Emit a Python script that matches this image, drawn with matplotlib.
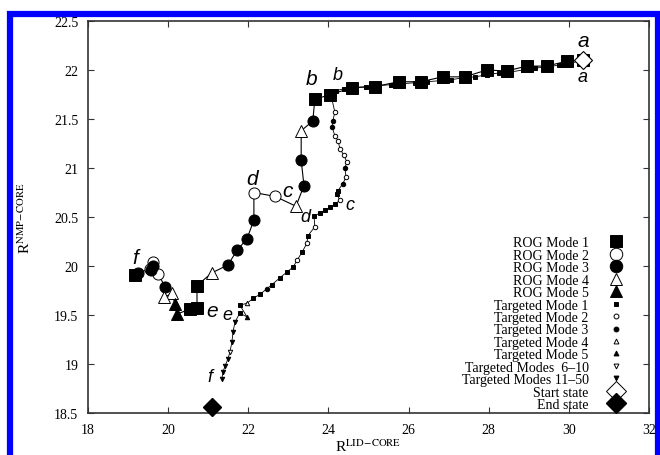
import matplotlib
matplotlib.use("Agg")
import matplotlib.pyplot as plt
import matplotlib.patches as patches
from matplotlib.lines import Line2D
from matplotlib.ticker import FuncFormatter

# ROG path (large markers), a -> f
rog_x = [30.35, 29.95, 29.45, 28.95, 28.45, 27.95, 27.40, 26.85, 26.30, 25.75,
         25.15, 24.60, 24.05, 23.66, 23.61, 23.32, 23.32, 23.39, 23.19, 22.67,
         22.14, 22.14, 21.97, 21.72, 21.49, 21.09, 20.72, 20.72, 20.55, 20.22,
         20.17, 20.10, 19.90, 19.92, 19.75, 19.62, 19.58, 19.62, 19.55, 19.25,
         19.17]
rog_y = [22.10, 22.09, 22.04, 22.04, 21.99, 22.00, 21.93, 21.93, 21.88, 21.88,
         21.83, 21.82, 21.75, 21.70, 21.48, 21.38, 21.08, 20.82, 20.61, 20.71,
         20.75, 20.47, 20.28, 20.16, 20.01, 19.93, 19.80, 19.57, 19.56, 19.51,
         19.61, 19.72, 19.68, 19.79, 19.92, 20.04, 19.96, 20.00, 19.97, 19.93,
         19.91]
rog_mode = [1, 1, 1, 1, 1, 1, 1, 1, 1, 1,
            1, 1, 1, 1, 3, 4, 3, 3, 4, 2,
            2, 3, 3, 3, 3, 4, 1, 1, 1, 5,
            5, 4, 4, 3, 2, 2, 3, 3, 2, 3,
            1]

# targeted path (small markers), a -> f
tgt_x = [30.35, 30.05, 29.75, 29.45, 29.15, 28.85, 28.55, 28.25, 27.95, 27.65,
         27.35, 27.05, 26.75, 26.45, 26.15, 25.85, 25.55, 25.25, 24.95, 24.65,
         24.40, 24.20, 24.05, 24.16, 24.11, 24.09, 24.16, 24.24, 24.29, 24.39,
         24.46, 24.41, 24.44, 24.36, 24.24, 24.21, 24.29, 24.16, 24.04, 23.91,
         23.79, 23.64, 23.66, 23.49, 23.46, 23.34, 23.22, 23.12, 22.97, 22.79,
         22.59, 22.47, 22.29, 22.12, 21.97, 21.79, 21.97, 21.79, 21.67, 21.62,
         21.59, 21.54, 21.49, 21.42, 21.37, 21.34]
tgt_y = [22.10, 22.07, 22.05, 22.03, 22.02, 22.00, 21.98, 21.97, 21.95, 21.93,
         21.92, 21.90, 21.89, 21.88, 21.87, 21.86, 21.85, 21.84, 21.83, 21.82,
         21.81, 21.79, 21.77, 21.57, 21.48, 21.42, 21.33, 21.28, 21.19, 21.13,
         21.06, 21.00, 20.91, 20.84, 20.77, 20.73, 20.67, 20.63, 20.60, 20.57,
         20.54, 20.51, 20.40, 20.31, 20.23, 20.14, 20.06, 19.99, 19.94, 19.88,
         19.81, 19.77, 19.71, 19.67, 19.62, 19.60, 19.48, 19.52, 19.43, 19.33,
         19.22, 19.12, 19.05, 18.98, 18.92, 18.85]
tgt_mode = [1, 1, 1, 1, 1, 1, 1, 1, 1, 1,
            1, 1, 1, 1, 1, 1, 1, 1, 1, 1,
            1, 1, 1, 2, 3, 3, 2, 2, 2, 2,
            2, 3, 2, 3, 1, 1, 2, 1, 1, 1,
            1, 1, 2, 1, 2, 1, 2, 1, 1, 1,
            1, 3, 1, 1, 4, 1, 5, 1, 11, 11,
            11, 6, 11, 11, 11, 11]

start_state = (30.35, 22.10)
end_state = (21.10, 18.56)

# letter annotations: (text, x, y, size)
letters = [("a", 30.35, 22.30, 15), ("a", 30.35, 21.93, 13),
           ("b", 23.59, 21.91, 15), ("b", 24.24, 21.95, 13),
           ("c", 22.99, 20.77, 15), ("c", 24.54, 20.63, 13),
           ("d", 22.09, 20.89, 15), ("d", 23.42, 20.50, 13),
           ("e", 21.09, 19.55, 15), ("e", 21.49, 19.51, 13),
           ("f", 19.17, 20.09, 15), ("f", 21.04, 18.87, 13)]

legend_labels = ["ROG Mode 1", "ROG Mode 2", "ROG Mode 3", "ROG Mode 4", "ROG Mode 5",
                 "Targeted Mode 1", "Targeted Mode 2", "Targeted Mode 3",
                 "Targeted Mode 4", "Targeted Mode 5", "Targeted Modes  6\u201310",
                 "Targeted Modes 11\u201350", "Start state", "End state"]

# mode -> (marker, filled)
rog_style = {1: ('s', True), 2: ('o', False), 3: ('o', True), 4: ('^', False), 5: ('^', True)}
tgt_style = {1: ('s', True), 2: ('o', False), 3: ('o', True), 4: ('^', False),
             5: ('^', True), 6: ('v', False), 11: ('v', True)}


def draw_path(ax, xs, ys, modes, style, ms, lw):
    ax.plot(xs, ys, color='black', lw=lw, zorder=2)
    for m, (mk, filled) in style.items():
        px = [x for x, mm in zip(xs, modes) if mm == m]
        py = [y for y, mm in zip(ys, modes) if mm == m]
        if not px:
            continue
        ax.plot(px, py, ls='none', marker=mk, ms=ms, mec='black', mew=0.7,
                mfc='black' if filled else 'white', zorder=3)


def main():
    plt.rcParams['font.family'] = ['Liberation Serif', 'DejaVu Serif']
    plt.rcParams['mathtext.fontset'] = 'stix'

    fig = plt.figure(figsize=(6.6, 4.56), dpi=100)
    ax = fig.add_axes([88 / 660, 1 - 414 / 456, 561 / 660, 392 / 456])

    draw_path(ax, tgt_x, tgt_y, tgt_mode, tgt_style, 3.2, 0.6)
    draw_path(ax, rog_x, rog_y, rog_mode, rog_style, 8, 0.8)

    ax.plot(*start_state, ls='none', marker='D', ms=9, mfc='white', mec='black', mew=0.8, zorder=4)
    ax.plot(*end_state, ls='none', marker='D', ms=9, mfc='black', mec='black', zorder=4, clip_on=False)

    for t, x, y, s in letters:
        ax.text(x, y, t, fontsize=s, style='italic', family='Liberation Sans',
                ha='center', va='center', zorder=5)

    ax.set_xlim(18, 32)
    ax.set_ylim(18.5, 22.5)
    ax.set_xticks(range(18, 33, 2))
    ax.set_yticks([18.5 + 0.5 * i for i in range(9)])
    ax.yaxis.set_major_formatter(FuncFormatter(lambda v, p: f"{v:g}"))
    ax.tick_params(direction='in', length=4, width=0.8, top=True, right=True,
                   labelsize=10, pad=7, colors='#333333', labelcolor='black')
    for sp in ax.spines.values():
        sp.set_linewidth(1.2)
        sp.set_color('#333333')

    ax.set_xlabel(r'R$^{\mathrm{LID\!-\!CORE}}$', fontsize=11, labelpad=1)
    ax.set_ylabel(r'R$^{\mathrm{NMP\!-\!CORE}}$', fontsize=11, labelpad=15)

    # legend handles
    handles = []
    for m in range(1, 6):
        mk, filled = rog_style[m]
        handles.append(Line2D([], [], ls='none', marker=mk, ms=9, mec='black', mew=0.7,
                              mfc='black' if filled else 'white'))
    for m in [1, 2, 3, 4, 5, 6, 11]:
        mk, filled = tgt_style[m]
        handles.append(Line2D([], [], ls='none', marker=mk, ms=3.5, mec='black', mew=0.7,
                              mfc='black' if filled else 'white'))
    handles.append(Line2D([], [], ls='none', marker='D', ms=10, mec='black', mew=0.7, mfc='white'))
    handles.append(Line2D([], [], ls='none', marker='D', ms=10, mec='black', mfc='black'))

    ax.legend(handles, legend_labels, loc='lower right', bbox_to_anchor=(0.974, -0.02),
              frameon=False, markerfirst=False, fontsize=10, labelspacing=-0.04,
              handlelength=1.2, handletextpad=1.4, borderpad=0.2)

    # blue outer border
    fig.add_artist(patches.Rectangle((10 / 660, -0.1), 648 / 660, (456 - 14.5) / 456 + 0.1,
                                     transform=fig.transFigure, fill=False,
                                     edgecolor='#0000ff', lw=4.5, clip_on=False))

    fig.savefig('out.png', dpi=100)


if __name__ == "__main__":
    main()
